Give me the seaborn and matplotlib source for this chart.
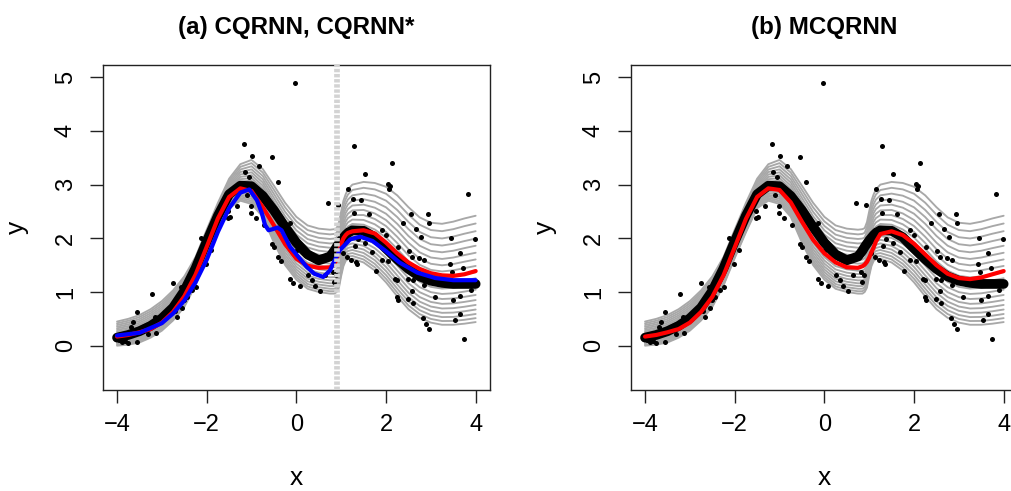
import numpy as np
import pandas as pd
import matplotlib
matplotlib.use("Agg")
import matplotlib.pyplot as plt
import seaborn as sns

# ---------------------------------------------------------------- data
# observations (x, y)
obs_x = [
    -3.95, -3.89, -3.83, -3.76, -3.69, -3.65, -3.56, -3.55, -3.32, -3.29,
    -3.22, -3.15, -3.14, -2.75, -2.70, -2.67, -2.57, -2.55, -2.51, -2.44,
    -2.33, -2.23, -2.12, -2.09, -2.02, -1.91, -1.53, -1.52, -1.49, -1.33,
    -1.17, -1.14, -1.09, -1.05, -1.02, -1.01, -0.98, -0.91, -0.84, -0.72,
    -0.55, -0.55, -0.50, -0.42, -0.41, -0.34, -0.14, -0.14, -0.07, -0.04,
    0.02, 0.08, 0.23, 0.25, 0.34, 0.42, 0.53, 0.65, 0.70, 0.81,
    0.85, 0.88, 0.92, 1.05, 1.14, 1.14, 1.16, 1.21, 1.27, 1.29,
    1.29, 1.31, 1.32, 1.35, 1.38, 1.44, 1.53, 1.53, 1.63, 1.68,
    1.78, 1.92, 1.92, 2.01, 2.05, 2.05, 2.07, 2.10, 2.13, 2.21,
    2.24, 2.25, 2.27, 2.27, 2.39, 2.50, 2.50, 2.52, 2.55, 2.57,
    2.59, 2.61, 2.61, 2.66, 2.73, 2.79, 2.82, 2.84, 2.84, 2.89,
    2.93, 2.96, 2.96, 3.10, 3.43, 3.44, 3.47, 3.49, 3.53, 3.65,
    3.65, 3.66, 3.71, 3.74, 3.82, 3.89, 3.98,
]
obs_y = [
    0.10, 0.06, 0.08, 0.05, 0.34, 0.45, 0.62, 0.06, 0.22, 0.40,
    0.97, 0.53, 0.23, 1.17, 0.65, 0.54, 1.10, 0.71, 0.85, 0.90,
    1.04, 1.10, 2.01, 1.99, 1.53, 1.78, 2.37, 2.50, 2.40, 2.61,
    3.75, 3.24, 2.81, 3.14, 2.61, 2.48, 3.54, 2.38, 3.35, 2.24,
    3.51, 1.89, 1.83, 3.04, 1.66, 1.58, 2.28, 1.24, 1.17, 4.89,
    1.78, 1.11, 1.73, 1.32, 1.23, 1.12, 1.02, 1.31, 2.65, 1.37,
    1.18, 1.31, 2.62, 1.73, 1.66, 2.15, 2.91, 1.60, 2.74, 3.72,
    2.48, 1.86, 1.56, 1.53, 1.99, 2.72, 3.19, 1.91, 2.45, 1.74,
    1.40, 2.15, 1.60, 2.07, 3.01, 1.57, 2.91, 2.97, 3.40, 1.25,
    1.22, 0.91, 1.83, 0.85, 2.29, 1.25, 0.87, 1.76, 2.45, 1.01,
    1.66, 1.22, 0.79, 2.17, 1.63, 2.03, 0.51, 1.60, 1.13, 0.40,
    2.45, 2.29, 0.32, 0.90, 1.53, 2.01, 1.37, 0.85, 0.48, 1.73,
    0.59, 0.93, 1.45, 0.13, 2.82, 1.04, 1.99,
]

# common x grid for the curves
grid_x = [
    -4.00, -3.75, -3.50, -3.25, -3.00, -2.75, -2.50, -2.25, -2.00, -1.75,
    -1.50, -1.25, -1.00, -0.75, -0.50, -0.25, 0.00, 0.25, 0.50, 0.75,
    0.85, 0.90, 0.95, 1.00, 1.05, 1.10, 1.15, 1.25, 1.50, 1.75,
    2.00, 2.25, 2.50, 2.75, 3.00, 3.25, 3.50, 3.75, 4.00,
]
# true function
true_y = [
    0.15, 0.20, 0.27, 0.37, 0.51, 0.71, 1.02, 1.44, 1.94, 2.42,
    2.82, 2.98, 2.97, 2.79, 2.52, 2.21, 1.92, 1.70, 1.59, 1.66,
    1.77, 1.84, 1.90, 1.96, 2.01, 2.06, 2.10, 2.15, 2.14, 2.02,
    1.81, 1.61, 1.43, 1.29, 1.21, 1.17, 1.15, 1.15, 1.15,
]
# upper and lower true quantile curves
q_top = [
    0.45, 0.50, 0.57, 0.68, 0.83, 1.03, 1.29, 1.65, 2.16, 2.66,
    3.11, 3.38, 3.46, 3.29, 2.98, 2.66, 2.40, 2.24, 2.18, 2.16,
    2.17, 2.19, 2.30, 2.50, 2.70, 2.82, 2.91, 3.00, 3.05, 3.03,
    2.96, 2.80, 2.58, 2.39, 2.29, 2.27, 2.31, 2.37, 2.42,
]
q_bottom = [
    0.00, 0.02, 0.06, 0.15, 0.28, 0.47, 0.72, 1.12, 1.63, 2.11,
    2.56, 2.70, 2.64, 2.40, 1.92, 1.50, 1.23, 1.06, 1.00, 0.97,
    0.97, 1.00, 1.08, 1.30, 1.48, 1.58, 1.61, 1.62, 1.55, 1.40,
    1.18, 0.92, 0.68, 0.52, 0.43, 0.39, 0.39, 0.41, 0.44,
]
# relative position of each of the 19 quantile levels between the two
q_levels = [0.000, 0.037, 0.076, 0.118, 0.161, 0.207, 0.255, 0.305, 0.358,
            0.412, 0.469, 0.528, 0.589, 0.652, 0.718, 0.785, 0.855, 0.927, 1.000]

# CQRNN fit, panel (a)
cqrnn_a = [
    0.17, 0.20, 0.25, 0.31, 0.43, 0.63, 0.92, 1.32, 1.84, 2.37,
    2.77, 2.93, 2.88, 2.58, 2.24, 1.89, 1.62, 1.49, 1.45, 1.46,
    1.52, 1.62, 1.76, 1.90, 2.00, 2.06, 2.10, 2.13, 2.15, 2.09,
    1.92, 1.72, 1.55, 1.43, 1.35, 1.31, 1.30, 1.33, 1.39,
]
# MCQRNN fit, panel (b)
mcqrnn_b = [
    0.17, 0.20, 0.25, 0.31, 0.43, 0.63, 0.91, 1.31, 1.83, 2.36,
    2.77, 2.93, 2.90, 2.67, 2.31, 1.97, 1.72, 1.55, 1.46, 1.45,
    1.48, 1.51, 1.56, 1.64, 1.74, 1.83, 1.94, 2.08, 2.13, 2.06,
    1.90, 1.70, 1.50, 1.34, 1.26, 1.24, 1.27, 1.33, 1.39,
]
# CQRNN* fit, panel (a)
star_x = [-4.00, -3.50, -3.00, -2.75, -2.50, -2.25, -2.00, -1.75, -1.50, -1.25,
          -1.05, -0.88, -0.77, -0.70, -0.62, -0.53, -0.42, -0.33, -0.14, 0.00,
          0.23, 0.40, 0.60, 0.75, 0.82, 0.97, 1.20, 1.42, 1.70, 2.00,
          2.30, 2.70, 3.10, 3.50, 4.00]
star_y = [0.19, 0.24, 0.42, 0.60, 0.84, 1.18, 1.60, 2.12, 2.56, 2.85,
          2.91, 2.71, 2.47, 2.25, 2.15, 2.17, 2.20, 2.15, 1.84, 1.70,
          1.47, 1.34, 1.28, 1.40, 1.53, 1.78, 1.98, 2.03, 1.95, 1.76,
          1.55, 1.36, 1.26, 1.22, 1.22]

split_x = 0.91
titles = ["(a) CQRNN, CQRNN*", "(b) MCQRNN"]
x_ticks = [-4, -2, 0, 2, 4]
y_ticks = [0, 1, 2, 3, 4, 5]

# ---------------------------------------------------------------- style
sns.set_theme(style="white")
plt.rcParams.update({
    "font.family": ["Liberation Sans", "DejaVu Sans"],
    "text.color": "black",
    "axes.labelcolor": "black",
    "axes.titlecolor": "black",
    "axes.edgecolor": "#222222",
    "axes.linewidth": 1.0,
    "xtick.color": "#222222",
    "ytick.color": "#222222",
    "xtick.labelcolor": "black",
    "ytick.labelcolor": "black",
    "axes.unicode_minus": True,
})

W, H = 1011, 491
fig = plt.figure(figsize=(W / 100, H / 100), dpi=100)
ax_w, ax_h = 387.3 / W, 325.3 / H
ax_bottom = 1 - 390 / H
ax_a = fig.add_axes([102.7 / W, ax_bottom, ax_w, ax_h])
ax_b = fig.add_axes([630.7 / W, ax_bottom, ax_w, ax_h])

gx = np.array(grid_x)
lo = np.array(q_bottom)
hi = np.array(q_top)
obs = pd.DataFrame({"x": obs_x, "y": obs_y})


def draw_panel(ax, fit_y, title, star=False):
    for lev in q_levels:
        sns.lineplot(x=gx, y=lo + (hi - lo) * lev, ax=ax, color="#a8a8a8",
                     lw=1.35, zorder=2, estimator=None)
    sns.scatterplot(data=obs, x="x", y="y", ax=ax, color="black", s=13,
                    linewidth=0, zorder=3)
    sns.lineplot(x=gx, y=true_y, ax=ax, color="black", lw=7.0, zorder=4,
                 estimator=None, solid_capstyle="round", solid_joinstyle="round")
    sns.lineplot(x=gx, y=fit_y, ax=ax, color="#ff0000", lw=3.0, zorder=5,
                 estimator=None, solid_capstyle="round")
    if star:
        sns.lineplot(x=star_x, y=star_y, ax=ax, color="#0000ff", lw=3.0,
                     zorder=6, estimator=None, solid_capstyle="round")
        ax.axvline(split_x, color="#d3d3d3", lw=4.1, dashes=(0.6, 0.3),
                   zorder=7)

    ax.set_xlim(-4.32, 4.32)
    ax.set_ylim(-0.825, 5.233)
    ax.set_xticks(x_ticks)
    ax.set_yticks(y_ticks)
    ax.tick_params(axis="both", direction="out", length=9.1, width=1.0,
                   labelsize=17, bottom=True, left=True)
    ax.tick_params(axis="x", pad=8.5)
    ax.tick_params(axis="y", pad=9.5)
    for lab in ax.get_yticklabels():
        lab.set_rotation(90)
        lab.set_verticalalignment("center")
    for s in ax.spines.values():
        s.set_visible(True)

    ax.set_xlabel("x", fontsize=19)
    ax.set_ylabel("y", fontsize=19)
    ax.xaxis.set_label_coords(0.5, -0.293)
    ax.xaxis.label.set_verticalalignment("baseline")
    ax.yaxis.set_label_coords(-0.2045, 0.5)
    ax.yaxis.label.set_verticalalignment("baseline")
    ax.set_title(title, fontsize=17.4, fontweight="bold", y=1.094, pad=0)


draw_panel(ax_a, cqrnn_a, titles[0], star=True)
draw_panel(ax_b, mcqrnn_b, titles[1])

fig.savefig("out.png", dpi=100)
